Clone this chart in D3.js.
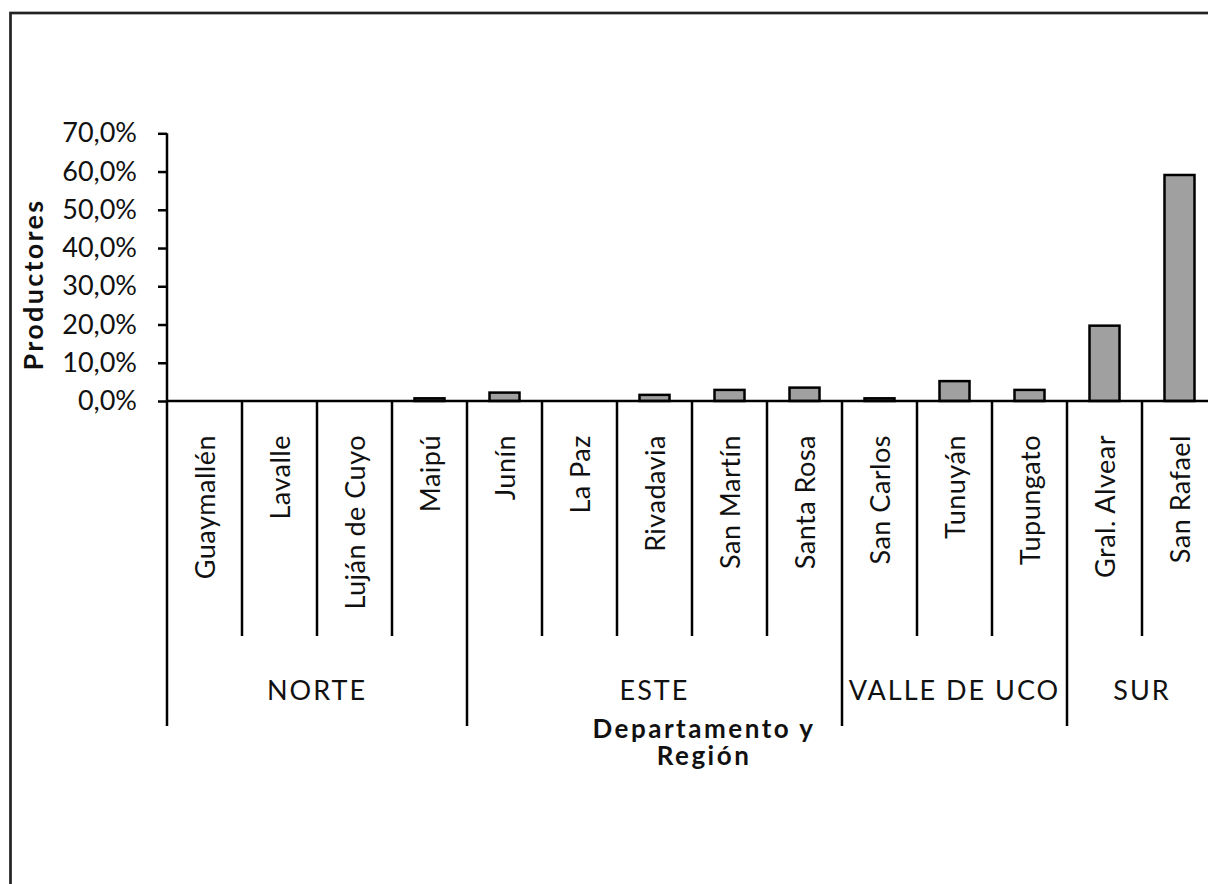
<!DOCTYPE html>
<html>
<head>
<meta charset="utf-8">
<script src="https://cdn.jsdelivr.net/npm/d3@7"></script>
<style>
  body { margin: 0; background: #fff; }
  svg { display: block; font-family: Lato, "Open Sans", sans-serif; }
</style>
</head>
<body>
<svg id="chart" width="1208" height="884"></svg>
<script>
// departamentos, región y % de productores
var departamentos = ["Guaymallén", "Lavalle", "Luján de Cuyo", "Maipú",
    "Junín", "La Paz", "Rivadavia", "San Martín", "Santa Rosa",
    "San Carlos", "Tunuyán", "Tupungato",
    "Gral. Alvear", "San Rafael"];
var regiones = ["NORTE", "ESTE", "VALLE DE UCO", "SUR"];
var deptosPorRegion = [4, 5, 3, 2];
var productores = [0.000, 0.000, 0.000, 0.007,
    0.022, 0.000, 0.016, 0.029, 0.035,
    0.007, 0.052, 0.029,
    0.197, 0.591];
var yTicks = [0, 0.1, 0.2, 0.3, 0.4, 0.5, 0.6, 0.7];

var svg = d3.select("svg#chart");

var plotLeft = 167, plotRight = 1217, plotTop = 133.3, base = 401,
    tickEnd = 636, groupEnd = 726;

var es = d3.formatLocale({decimal: ",", thousands: ".", grouping: [3], currency: ["$", ""]});
var fmt = es.format(".1%");

var x = d3.scaleBand()
    .domain(departamentos)
    .range([plotLeft, plotRight])
    .padding(0);
var y = d3.scaleLinear()
    .domain([0, 0.7])
    .range([base, plotTop]);

// marco del gráfico (se corta a la derecha y abajo)
svg.append("rect")
    .attr("x", 10.5).attr("y", 13)
    .attr("width", 1400).attr("height", 1000)
    .attr("fill", "none")
    .attr("stroke", "#222")
    .attr("stroke-width", 2.7);

// eje Y
var yAxis = svg.append("g")
    .attr("transform", "translate(" + plotLeft + ",0)")
    .call(d3.axisLeft(y).tickValues(yTicks).tickSize(9).tickFormat(fmt));
yAxis.select(".domain").remove();
yAxis.selectAll(".tick line").attr("stroke", "#000").attr("stroke-width", 2.5);
yAxis.selectAll(".tick text")
    .attr("x", -30)
    .attr("font-size", 27)
    .attr("font-family", "Lato, sans-serif")
    .attr("fill", "#111");

// barras
svg.append("g").selectAll("rect")
    .data(departamentos)
    .enter().append("rect")
    .attr("x", function (d) { return x(d) + x.bandwidth() * 0.3; })
    .attr("width", x.bandwidth() * 0.4)
    .attr("y", function (d, i) { return y(productores[i]); })
    .attr("height", function (d, i) { return base - y(productores[i]); })
    .attr("fill", "#a0a0a0")
    .attr("stroke", "#000")
    .attr("stroke-width", 2.5);

var lines = svg.append("g").attr("stroke", "#000").attr("stroke-width", 2.5);

// línea vertical del eje
lines.append("line")
    .attr("x1", plotLeft).attr("x2", plotLeft)
    .attr("y1", y(0.7)).attr("y2", groupEnd);

// línea base
lines.append("line")
    .attr("x1", plotLeft).attr("x2", plotRight)
    .attr("y1", base).attr("y2", base);

// divisiones entre departamentos
var frontera = [];
var acc = 0;
deptosPorRegion.forEach(function (n) { acc += n; frontera.push(acc); });

lines.selectAll("line.cat")
    .data(departamentos.slice(1))
    .enter().append("line")
    .attr("class", "cat")
    .attr("x1", function (d) { return x(d); })
    .attr("x2", function (d) { return x(d); })
    .attr("y1", base)
    .attr("y2", function (d, i) { return frontera.indexOf(i + 1) >= 0 ? groupEnd : tickEnd; });

// etiquetas de departamento
svg.append("g").selectAll("text")
    .data(departamentos)
    .enter().append("text")
    .attr("transform", function (d) {
        return "translate(" + (x(d) + x.bandwidth() / 2 + 10) + ",435) rotate(-90)";
    })
    .attr("text-anchor", "end")
    .attr("font-size", 27)
    .attr("letter-spacing", 0.5)
    .attr("fill", "#111")
    .text(function (d) { return d; });

// etiquetas de región
var start = 0;
regiones.forEach(function (r, i) {
    var a = x(departamentos[start]);
    var end = start + deptosPorRegion[i];
    var b = end < departamentos.length ? x(departamentos[end]) : plotRight;
    svg.append("text")
        .attr("x", (a + b) / 2)
        .attr("y", 700)
        .attr("text-anchor", "middle")
        .attr("font-size", 27)
        .attr("letter-spacing", 2)
        .attr("fill", "#111")
        .text(r);
    start = end;
});

// títulos de ejes
svg.append("text")
    .attr("transform", "translate(43," + 284.5 + ") rotate(-90)")
    .attr("text-anchor", "middle")
    .attr("font-size", 27)
    .attr("font-weight", "bold")
    .attr("letter-spacing", 2.3)
    .attr("fill", "#111")
    .text("Productores");

var title = svg.append("text")
    .attr("text-anchor", "middle")
    .attr("font-size", 26)
    .attr("font-weight", "bold")
    .attr("letter-spacing", 2.5)
    .attr("fill", "#111");
title.append("tspan").attr("x", 704).attr("y", 738).text("Departamento y");
title.append("tspan").attr("x", 704).attr("y", 765).text("Región");
</script>
</body>
</html>
